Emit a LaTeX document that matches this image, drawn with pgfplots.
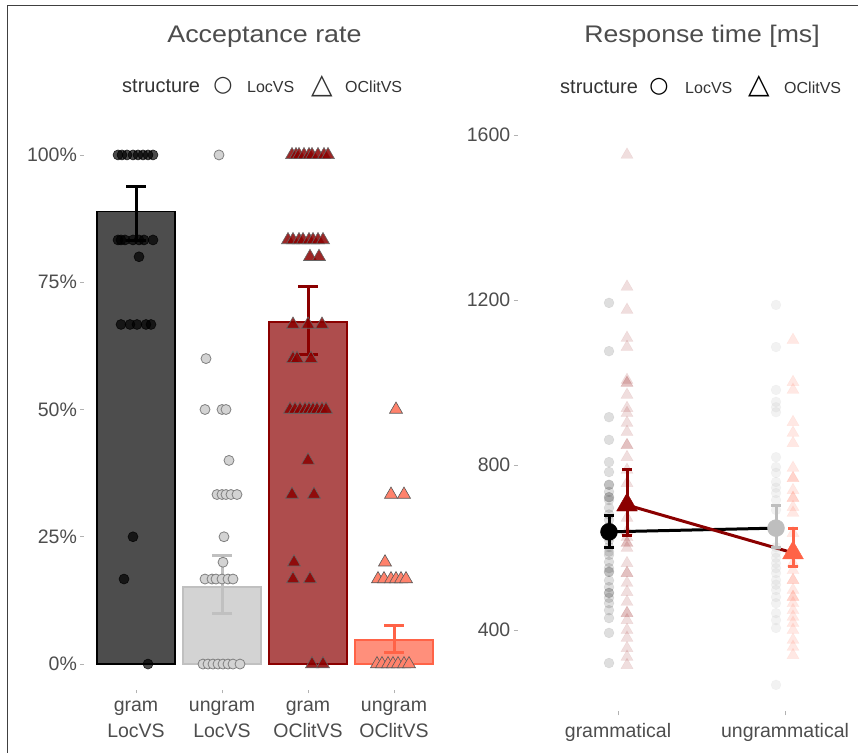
\documentclass[border=0pt]{standalone}
\usepackage{pgfplots}
\pgfplotsset{compat=1.18}
\usepackage{fontspec}
\setmainfont{Liberation Sans}
\newfontfamily\symfont{DejaVu Sans}
\usepackage{graphicx}
\definecolor{txt}{HTML}{4D4D4D}
\definecolor{barA}{HTML}{4D4D4D}
\definecolor{barB}{HTML}{D3D3D3}
\definecolor{barBedge}{HTML}{C0C0C0}
\definecolor{barC}{HTML}{AE4D4D}
\definecolor{dred}{HTML}{8B0000}
\definecolor{barD}{HTML}{FF8F7B}
\definecolor{tomato}{HTML}{FF6347}
\definecolor{ptgray}{HTML}{BEBEBE}

\pgfplotsset{
  panel/.style={
    scale only axis,
    axis lines*=left,
    axis line style={draw=none},
    tick align=outside,
    major tick length=4bp,
    tick style={color=gray!60, line width=0.8bp},
    ticklabel style={font=\fontsize{19.5bp}{25.5bp}\selectfont, color=txt},
    clip=false,
  },
  ebar/.style={draw=none, mark=none, error bars/.cd, y dir=both, y explicit,
    error bar style={draw=#1, line width=3bp},
    error mark options={draw=#1, line width=3bp, rotate=90, mark size=10bp}},
  ebars/.style={draw=none, mark=none, error bars/.cd, y dir=both, y explicit,
    error bar style={draw=#1, line width=3bp},
    error mark options={draw=#1, line width=3bp, rotate=90, mark size=5bp}},
}
\begin{document}
\begin{tikzpicture}
\path[use as bounding box] (0bp,0bp) rectangle (858bp,753bp);
\draw[line width=1.6bp, color=black!75] (7.5bp,0bp) -- (7.5bp,747.5bp) -- (858bp,747.5bp);

% titles
\node[anchor=base, font=\fontsize{24bp}{28bp}\selectfont, color=txt] at (264.5bp,710bp) {\scalebox{1.12}[1]{Acceptance rate}};
\node[anchor=base, font=\fontsize{24bp}{28bp}\selectfont, color=txt] at (702bp,710bp) {\scalebox{1.11}[1]{Response time [ms]}};

% legends
\node[anchor=base west, font=\fontsize{20bp}{24bp}\selectfont, color=black!80, inner sep=0pt] at (122bp,660bp) {structure};
\node[anchor=center, inner sep=0pt, color=black!80, font=\symfont\fontsize{22bp}{24bp}\selectfont] at (223bp,667bp) {○};
\node[anchor=base west, font=\fontsize{16bp}{20bp}\selectfont, color=black!80, inner sep=0pt] at (247bp,660bp) {LocVS};
\node[anchor=center, inner sep=0pt, color=black!80, font=\symfont\fontsize{28bp}{30bp}\selectfont] at (322bp,667bp) {△};
\node[anchor=base west, font=\fontsize{16bp}{20bp}\selectfont, color=black!80, inner sep=0pt] at (345bp,660bp) {OClitVS};

\node[anchor=base west, font=\fontsize{20bp}{24bp}\selectfont, color=black!80, inner sep=0pt] at (560bp,659bp) {structure};
\node[anchor=center, inner sep=0pt, color=black, font=\symfont\bfseries\fontsize{22bp}{24bp}\selectfont] at (659bp,666bp) {○};
\node[anchor=base west, font=\fontsize{16bp}{20bp}\selectfont, color=black!80, inner sep=0pt] at (685bp,659bp) {LocVS};
\node[anchor=center, inner sep=0pt, color=black, font=\symfont\fontsize{28bp}{30bp}\selectfont] at (759bp,667bp) {△};
\node[anchor=base west, font=\fontsize{16bp}{20bp}\selectfont, color=black!80, inner sep=0pt] at (784bp,659bp) {OClitVS};

%================ LEFT PANEL =================
\begin{axis}[panel,
  at={(84.4bp,63.5bp)}, anchor=south west,
  width=361.2bp, height=560bp,
  xmin=84.4, xmax=445.6, ymin=-5, ymax=105,
  xtick={136,222,308,394},
  xticklabels={gram\\LocVS, ungram\\LocVS, gram\\OClitVS, ungram\\OClitVS},
  xticklabel style={align=center, yshift=-4bp},
  ytick={0,25,50,75,100},
  yticklabels={0\%,25\%,50\%,75\%,100\%},
]
% bars
\addplot[ybar, bar width=78, bar shift=0pt, fill=barA, draw=black, line width=1.4bp] coordinates {(136,88.9)};
\addplot[ybar, bar width=78, bar shift=0pt, fill=barB, draw=barBedge, line width=1.4bp] coordinates {(222,15.1)};
\addplot[ybar, bar width=78, bar shift=0pt, fill=barC, draw=dred, line width=1.4bp] coordinates {(308,67.2)};
\addplot[ybar, bar width=78, bar shift=0pt, fill=barD, draw=tomato, line width=1.4bp] coordinates {(394,4.7)};

% individual points
\addplot[only marks, mark=*, mark size=5bp, fill=black, fill opacity=0.7, draw=black, draw opacity=0.8, line width=0.6bp] coordinates {
(118,100) (122,100) (127,100) (133,100) (138,100) (143,100) (148,100) (153,100)
(118,83.3) (121,83.3) (125,83.3) (133,83.3) (139,83.3) (144,83.3) (153,83.3)
(139,80)
(121,66.7) (130,66.7) (137,66.7) (146,66.7) (151,66.7)
(133,25) (124,16.7) (148,0)
};
\addplot[only marks, mark=*, mark size=5bp, fill=barB, draw=gray, line width=0.8bp] coordinates {
(219,100) (206,60)
(205,50) (222,50) (226,50)
(229,40)
(217,33.3) (222,33.3) (226,33.3) (231,33.3) (237,33.3)
(224,25) (223,20)
(205,16.7) (212,16.7) (216,16.7) (222,16.7) (228,16.7) (233,16.7)
(203,0) (208,0) (213,0) (218,0) (223,0) (228,0) (233,0) (240,0)
};
\addplot[only marks, mark=triangle*, mark size=7.5bp, fill=dred, fill opacity=0.85, draw=gray!80!black, line width=0.6bp] coordinates {
(292,100) (296,100) (299,100) (304,100) (309,100) (312,100) (318,100) (324,100) (328,100)
(288,83.3) (293,83.3) (299,83.3) (303,83.3) (309,83.3) (313,83.3) (318,83.3) (323,83.3)
(310,80) (319,80)
(293,66.7) (308,66.7) (322,66.7)
(293,60) (297,60) (311,60)
(290,50) (295,50) (300,50) (305,50) (309,50) (313,50) (317,50) (322,50) (326,50)
(308,40) (292,33.3) (314,33.3)
(294,20) (293,16.7) (310,16.7)
(312,0) (323,0)
};
\addplot[only marks, mark=triangle*, mark size=7.5bp, fill=tomato!80!white, draw=gray!70!black, line width=0.6bp] coordinates {
(396,50) (391,33.3) (404,33.3) (385,20)
(378,16.7) (384,16.7) (391,16.7) (396,16.7) (401,16.7) (406,16.7)
(377,0) (382,0) (388,0) (393,0) (398,0) (404,0) (409,0)
};

% error bars
\addplot[ebar=black] coordinates {(136,88.9) += (0,5.0) -= (0,5.8)};
\addplot[ebar=barBedge] coordinates {(222,15.1) += (0,6.3) -= (0,5.1)};
\addplot[ebar=dred] coordinates {(308,67.2) += (0,6.9) -= (0,6.3)};
\addplot[ebar=tomato] coordinates {(394,4.7) += (0,2.8) -= (0,2.5)};
\end{axis}

%================ RIGHT PANEL =================
\begin{axis}[panel,
  at={(517.8bp,41.7bp)}, anchor=south west,
  width=368bp, height=582.1bp,
  xmin=517.8, xmax=885.8, ymin=203, ymax=1614,
  xtick={618,785}, xticklabels={grammatical, ungrammatical},
  xticklabel style={yshift=-5bp},
  ytick={400,800,1200,1600}, yticklabels={400,800,1200,1600},
]
\addplot[only marks, mark=*, mark size=5bp, fill=black, fill opacity=0.13, draw=black, draw opacity=0.08] coordinates {
(609,1193) (609,1076) (609,916) (609,861) (609,807) (609,783) (609,752) (609,752) (609,735)
(609,722) (609,722) (609,715) (609,696) (609,680) (609,667) (609,650) (609,625)
(609,618) (609,601) (609,590) (609,582) (609,565) (609,550) (609,541) (609,541) (609,520)
(609,504) (609,490) (609,490) (609,478) (609,465) (609,448) (609,429) (609,393) (609,320)
};
\addplot[only marks, mark=*, mark size=5bp, fill=ptgray, fill opacity=0.2, draw=ptgray, draw opacity=0.1] coordinates {
(776,1188) (776,1086) (776,982) (776,953) (776,940) (776,928) (776,819) (776,795) (776,781)
(776,759) (776,745) (776,732) (776,715) (776,691) (776,601) (776,587) (776,575) (776,562)
(776,550) (776,538) (776,521) (776,510) (776,497) (776,480) (776,465) (776,441) (776,424)
(776,405) (776,267)
};
\addplot[only marks, mark=triangle*, mark size=7bp, fill=dred, fill opacity=0.13, draw=dred, draw opacity=0.08] coordinates {
(627,1552) (627,1232) (627,1176) (627,1108) (627,1086) (627,1006) (627,999) (627,999) (627,970)
(627,938) (627,926) (627,902) (627,880) (627,848) (627,848) (627,819) (627,788) (627,756)
(627,715) (627,672) (627,640) (627,625) (627,611) (627,611) (627,599) (627,562) (627,538)
(627,538) (627,514) (627,492) (627,468) (627,441) (627,441) (627,424) (627,400) (627,381)
(627,356) (627,335) (627,315)
};
\addplot[only marks, mark=triangle*, mark size=7bp, fill=tomato, fill opacity=0.15, draw=tomato, draw opacity=0.08] coordinates {
(793,1103) (793,1001) (793,982) (793,904) (793,878) (793,853) (793,793) (793,768) (793,768)
(793,739) (793,720) (793,720) (793,698) (793,684) (793,635) (793,562) (793,545) (793,521)
(793,521) (793,497) (793,480) (793,480) (793,465) (793,448) (793,432) (793,417) (793,400)
(793,376) (793,359) (793,339)
};

% mean lines
\addplot[black, line width=3bp, mark=none] coordinates {(609,638) (776,647)};
\addplot[dred, line width=3bp, mark=none] coordinates {(627,703) (793,587)};

% error bars
\addplot[ebars=black] coordinates {(609,638) += (0,40) -= (0,39)};
\addplot[ebars=ptgray] coordinates {(776,647) += (0,56) -= (0,48)};
\addplot[ebars=dred] coordinates {(627,703) += (0,85) -= (0,73)};
\addplot[ebars=tomato] coordinates {(793,587) += (0,60) -= (0,34)};

% means
\addplot[only marks, mark=*, mark size=8.5bp, fill=black, draw=black] coordinates {(609,638)};
\addplot[only marks, mark=*, mark size=8.5bp, fill=ptgray, draw=ptgray] coordinates {(776,647)};
\addplot[only marks, mark=triangle*, mark size=12bp, fill=dred, draw=dred] coordinates {(627,703)};
\addplot[only marks, mark=triangle*, mark size=12bp, fill=tomato, draw=tomato] coordinates {(793,587)};
\end{axis}
\end{tikzpicture}
\end{document}
